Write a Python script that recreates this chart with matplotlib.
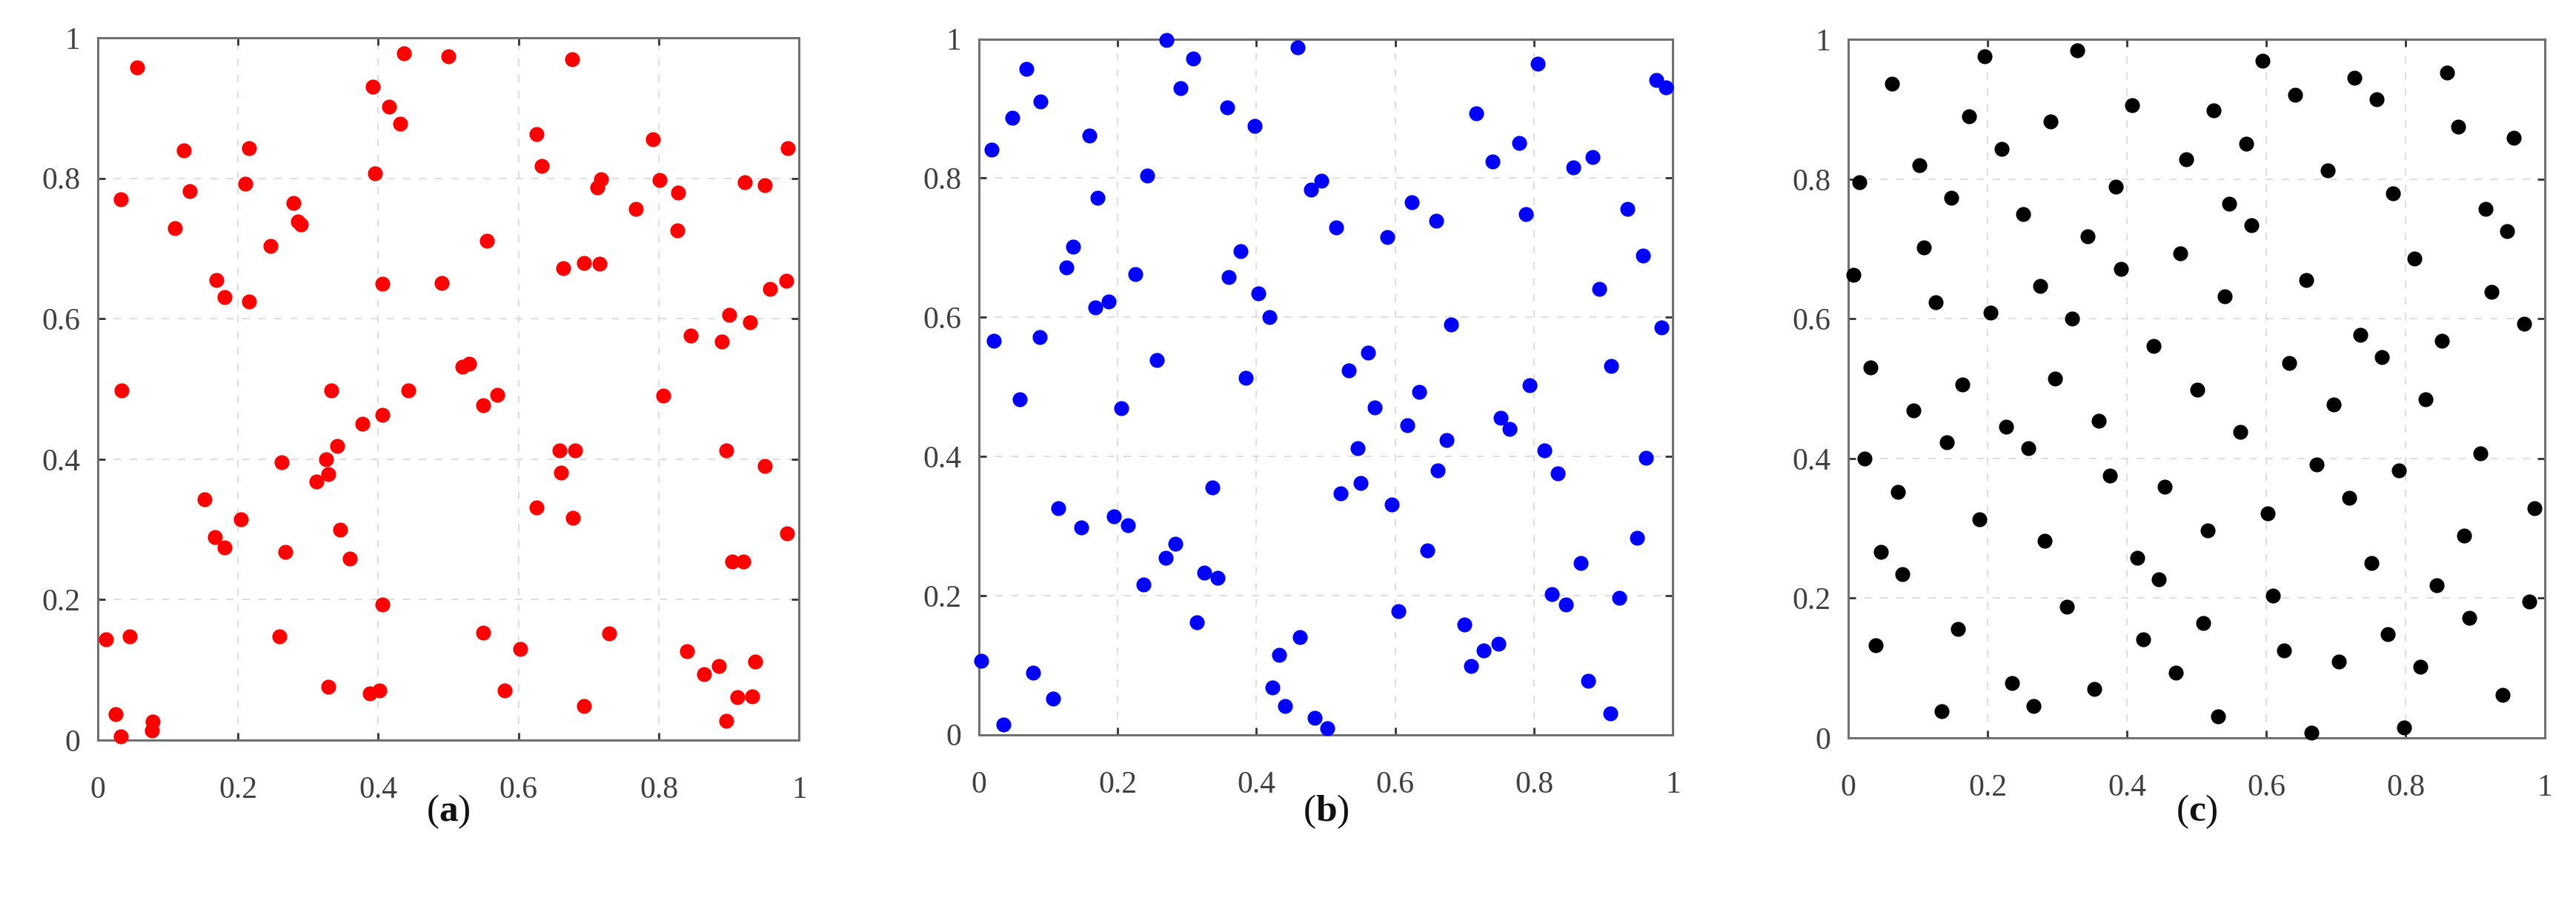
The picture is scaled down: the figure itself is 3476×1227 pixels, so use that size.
import matplotlib
matplotlib.use("Agg")
import matplotlib.pyplot as plt

# (a) random points
xa = [0.056, 0.437, 0.500, 0.392, 0.416, 0.431, 0.123, 0.216, 0.395, 0.033, 0.131, 0.210, 0.279,
      0.286, 0.290, 0.110, 0.246, 0.169, 0.181, 0.216, 0.406, 0.491, 0.034, 0.333, 0.443,
      0.676, 0.626, 0.792, 0.984, 0.633, 0.718, 0.712, 0.801, 0.828, 0.923, 0.951, 0.767, 0.826,
      0.555, 0.664, 0.693, 0.716, 0.982, 0.958, 0.900, 0.930, 0.846, 0.890, 0.520, 0.530, 0.570, 0.806,
      0.550, 0.659, 0.681, 0.661, 0.896, 0.951, 0.626, 0.678, 0.983, 0.905, 0.921, 0.550, 0.602,
      0.729, 0.840, 0.886, 0.865, 0.937, 0.580, 0.693, 0.912, 0.933, 0.896,
      0.406, 0.377, 0.342, 0.326, 0.262, 0.329, 0.312, 0.152, 0.204, 0.167, 0.181, 0.346, 0.268,
      0.359, 0.406, 0.012, 0.046, 0.259, 0.329, 0.388, 0.402, 0.026, 0.078, 0.077, 0.033]
ya = [0.958, 0.978, 0.974, 0.930, 0.902, 0.878, 0.840, 0.843, 0.807, 0.770, 0.782, 0.792, 0.765,
      0.738, 0.734, 0.729, 0.704, 0.655, 0.631, 0.625, 0.650, 0.651, 0.498, 0.498, 0.498,
      0.969, 0.863, 0.856, 0.843, 0.818, 0.799, 0.787, 0.798, 0.780, 0.794, 0.790, 0.756, 0.726,
      0.711, 0.672, 0.679, 0.678, 0.654, 0.642, 0.605, 0.595, 0.576, 0.568, 0.532, 0.536, 0.492, 0.491,
      0.477, 0.412, 0.413, 0.381, 0.412, 0.390, 0.331, 0.317, 0.294, 0.254, 0.254, 0.153, 0.130,
      0.152, 0.127, 0.105, 0.094, 0.112, 0.071, 0.049, 0.061, 0.062, 0.027,
      0.463, 0.450, 0.419, 0.400, 0.396, 0.379, 0.368, 0.343, 0.314, 0.289, 0.274, 0.300, 0.268,
      0.258, 0.193, 0.143, 0.148, 0.148, 0.076, 0.067, 0.071, 0.037, 0.026, 0.014, 0.005]

# (b)
xb = [0.270, 0.459, 0.309, 0.069, 0.291, 0.089, 0.358, 0.048, 0.397, 0.159, 0.018, 0.243, 0.479,
      0.494, 0.171, 0.515, 0.136, 0.377, 0.126, 0.225, 0.360, 0.403, 0.187, 0.168, 0.419, 0.022,
      0.088, 0.256, 0.385,
      0.805, 0.976, 0.990, 0.717, 0.779, 0.740, 0.857, 0.884, 0.624, 0.659, 0.589, 0.788, 0.934,
      0.957, 0.894, 0.680, 0.984, 0.561, 0.533, 0.911, 0.794, 0.634,
      0.570, 0.617, 0.674, 0.546, 0.752, 0.765, 0.815, 0.961, 0.661, 0.834, 0.550, 0.521, 0.595,
      0.948, 0.646, 0.867, 0.826, 0.846, 0.923, 0.605, 0.700, 0.749, 0.727, 0.709, 0.878, 0.910, 0.502,
      0.059, 0.205, 0.337, 0.114, 0.148, 0.195, 0.215, 0.283, 0.269, 0.325, 0.344, 0.237, 0.314,
      0.463, 0.433, 0.003, 0.078, 0.107, 0.423, 0.441, 0.035, 0.484]
yb = [0.999, 0.988, 0.972, 0.957, 0.929, 0.910, 0.902, 0.887, 0.875, 0.861, 0.841, 0.804, 0.783,
      0.796, 0.772, 0.729, 0.701, 0.695, 0.672, 0.662, 0.658, 0.634, 0.623, 0.614, 0.600, 0.566,
      0.572, 0.539, 0.513,
      0.964, 0.941, 0.930, 0.893, 0.850, 0.824, 0.815, 0.830, 0.765, 0.739, 0.715, 0.748, 0.756,
      0.689, 0.641, 0.590, 0.585, 0.549, 0.524, 0.530, 0.502, 0.493,
      0.470, 0.445, 0.424, 0.412, 0.455, 0.439, 0.409, 0.398, 0.380, 0.376, 0.362, 0.347, 0.331,
      0.283, 0.265, 0.247, 0.202, 0.187, 0.197, 0.177, 0.158, 0.131, 0.121, 0.099, 0.077, 0.031, 0.009,
      0.482, 0.469, 0.355, 0.326, 0.298, 0.314, 0.301, 0.274, 0.254, 0.233, 0.225, 0.216, 0.161,
      0.140, 0.115, 0.106, 0.089, 0.052, 0.068, 0.041, 0.015, 0.024]

# (c)
xc = [0.329, 0.196, 0.063, 0.407, 0.173, 0.290, 0.524, 0.220, 0.485, 0.102, 0.016, 0.384, 0.148,
      0.251, 0.344, 0.109, 0.477, 0.007, 0.392, 0.275, 0.125, 0.204, 0.321, 0.438, 0.032, 0.297,
      0.164, 0.501,
      0.595, 0.860, 0.727, 0.641, 0.759, 0.876, 0.955, 0.571, 0.688, 0.782, 0.547, 0.915, 0.579,
      0.946, 0.813, 0.657, 0.540, 0.923, 0.970, 0.735, 0.852, 0.766, 0.633, 0.829,
      0.697, 0.563, 0.907, 0.672, 0.790, 0.719, 0.985, 0.602, 0.516, 0.884, 0.751, 0.845, 0.610,
      0.978, 0.892, 0.510, 0.774, 0.626, 0.704, 0.821, 0.939, 0.531, 0.665, 0.798,
      0.094, 0.227, 0.360, 0.141, 0.258, 0.023, 0.376, 0.454, 0.071, 0.188, 0.282, 0.047, 0.415,
      0.078, 0.446, 0.314, 0.157, 0.423, 0.039, 0.470, 0.235, 0.353, 0.266, 0.134]
yc = [0.984, 0.976, 0.937, 0.906, 0.890, 0.882, 0.898, 0.843, 0.828, 0.820, 0.796, 0.789, 0.773,
      0.750, 0.718, 0.702, 0.694, 0.663, 0.671, 0.647, 0.624, 0.609, 0.600, 0.561, 0.530, 0.514,
      0.506, 0.499,
      0.969, 0.953, 0.945, 0.921, 0.914, 0.875, 0.859, 0.851, 0.812, 0.780, 0.765, 0.757, 0.734,
      0.725, 0.686, 0.655, 0.632, 0.639, 0.593, 0.577, 0.569, 0.545, 0.537, 0.485,
      0.477, 0.438, 0.407, 0.391, 0.383, 0.344, 0.329, 0.321, 0.297, 0.290, 0.250, 0.219, 0.204,
      0.195, 0.172, 0.164, 0.148, 0.125, 0.109, 0.102, 0.062, 0.031, 0.007, 0.015,
      0.469, 0.446, 0.454, 0.423, 0.415, 0.400, 0.375, 0.360, 0.352, 0.313, 0.282, 0.266, 0.258,
      0.234, 0.227, 0.188, 0.156, 0.141, 0.133, 0.093, 0.078, 0.070, 0.046, 0.038]

ticks = [0, 0.2, 0.4, 0.6, 0.8, 1]
tick_labels = ["0", "0.2", "0.4", "0.6", "0.8", "1"]
panel_labels = ["a", "b", "c"]

plt.rcParams['font.family'] = ['Liberation Serif', 'DejaVu Serif']
plt.rcParams['mathtext.fontset'] = 'custom'
plt.rcParams['mathtext.bf'] = 'Liberation Serif:bold'


def draw_panel(ax, x, y, color):
    ax.plot(x, y, 'o', color=color, ms=14.5, mec='none', clip_on=False, zorder=3)
    ax.set_xlim(0, 1)
    ax.set_ylim(0, 1)
    ax.set_xticks(ticks)
    ax.set_yticks(ticks)
    ax.set_xticklabels(tick_labels)
    ax.set_yticklabels(tick_labels)
    ax.grid(True, color='#d8d8d8', linestyle=(0, (6, 7)), linewidth=1.2)
    ax.set_axisbelow(True)
    ax.tick_params(direction='in', length=7, width=2, colors='#333333', labelcolor='#404040',
                   top=True, right=True, labelsize=30)
    ax.tick_params(axis='x', pad=35)
    ax.tick_params(axis='y', pad=17)
    for s in ax.spines.values():
        s.set_color('#707070')
        s.set_linewidth(2.2)


fig = plt.figure(figsize=(34.76, 12.27), dpi=100)
rects = [[0.0379, 0.1858, 0.2723, 0.7726],
         [0.3800, 0.1918, 0.2694, 0.7653],
         [0.7175, 0.1883, 0.2704, 0.7683]]
data = [(xa, ya, '#ff0000'), (xb, yb, '#0000ff'), (xc, yc, '#000000')]

for rect, (x, y, c), lab in zip(rects, data, panel_labels):
    ax = fig.add_axes(rect)
    draw_panel(ax, x, y, c)
    fig.text(rect[0] + rect[2] / 2, 0.107, "($\\mathbf{" + lab + "}$)", ha='center', va='center',
             fontsize=37, color='#111111')

fig.savefig("out.png", dpi=100)
